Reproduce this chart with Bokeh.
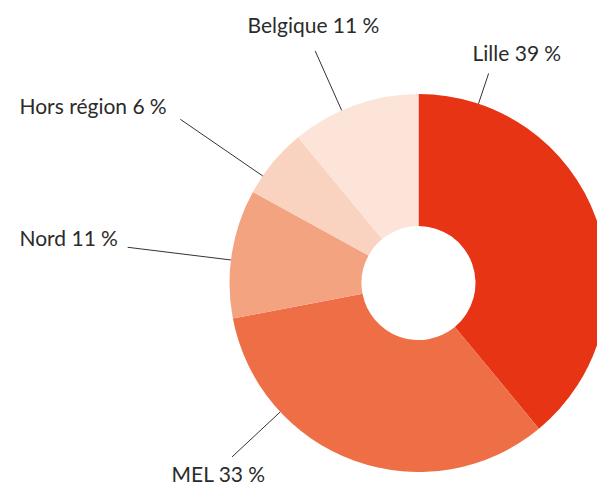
import numpy as np
from bokeh.plotting import figure
from bokeh.models import Range1d, ColumnDataSource
from bokeh.core.properties import value
from bokeh.embed import file_html
from bokeh.resources import INLINE

# data
categories = ["Lille", "MEL", "Nord", "Hors région", "Belgique"]
shares = [39, 33, 11, 6, 11]
colors = ["#E63414", "#EE6E45", "#F4A381", "#F9D3BF", "#FDE4D9"]

# layout (page pixels)
W, H = 597, 486
cx, cy = 418, 282.5
r_in, r_out = 57, 189
leader_deg = [18.5, 227, 277, 304.5, 336]   # clockwise from top
leader_len = [32, 66, 104, 100, 65]
label_pos = [(472, 52), (171, 473), (19, 237), (19, 105), (247, 24)]

def Y(py):
    return -py

p = figure(width=W, height=H, output_backend="svg", toolbar_location=None,
           x_range=Range1d(0, W), y_range=Range1d(Y(H), Y(0)),
           min_border=0, outline_line_color=None)
p.axis.visible = False
p.grid.visible = False
p.background_fill_color = "white"
p.border_fill_color = "white"

vals = np.array(shares, dtype=float)
frac = vals / vals.sum()
cum = np.concatenate([[0], np.cumsum(frac)])
start = np.pi / 2 - 2 * np.pi * cum[1:]
end = np.pi / 2 - 2 * np.pi * cum[:-1]

src = ColumnDataSource(dict(x=[cx] * len(shares), y=[Y(cy)] * len(shares),
                            start=list(start), end=list(end), color=colors))
p.annular_wedge(x="x", y="y", inner_radius=r_in, outer_radius=r_out,
                start_angle="start", end_angle="end", fill_color="color",
                line_color=None, source=src)

xs, ys = [], []
for a, L in zip(leader_deg, leader_len):
    t = np.radians(a)
    x0 = cx + r_out * np.sin(t)
    y0 = cy - r_out * np.cos(t)
    x1 = cx + (r_out + L) * np.sin(t)
    y1 = cy - (r_out + L) * np.cos(t)
    xs.append([x0, x1])
    ys.append([Y(y0), Y(y1)])
p.multi_line(xs=xs, ys=ys, line_color="#333333", line_width=1)

texts = [f"{c} {v}\u202f%" for c, v in zip(categories, shares)]
p.text(x=[q[0] for q in label_pos], y=[Y(q[1]) for q in label_pos], text=texts,
       text_font=value("Lato"), text_font_size="21px", text_color="#2b2b2b",
       text_align="left", text_baseline="alphabetic")

open("out.html", "w").write(file_html(p, INLINE))
